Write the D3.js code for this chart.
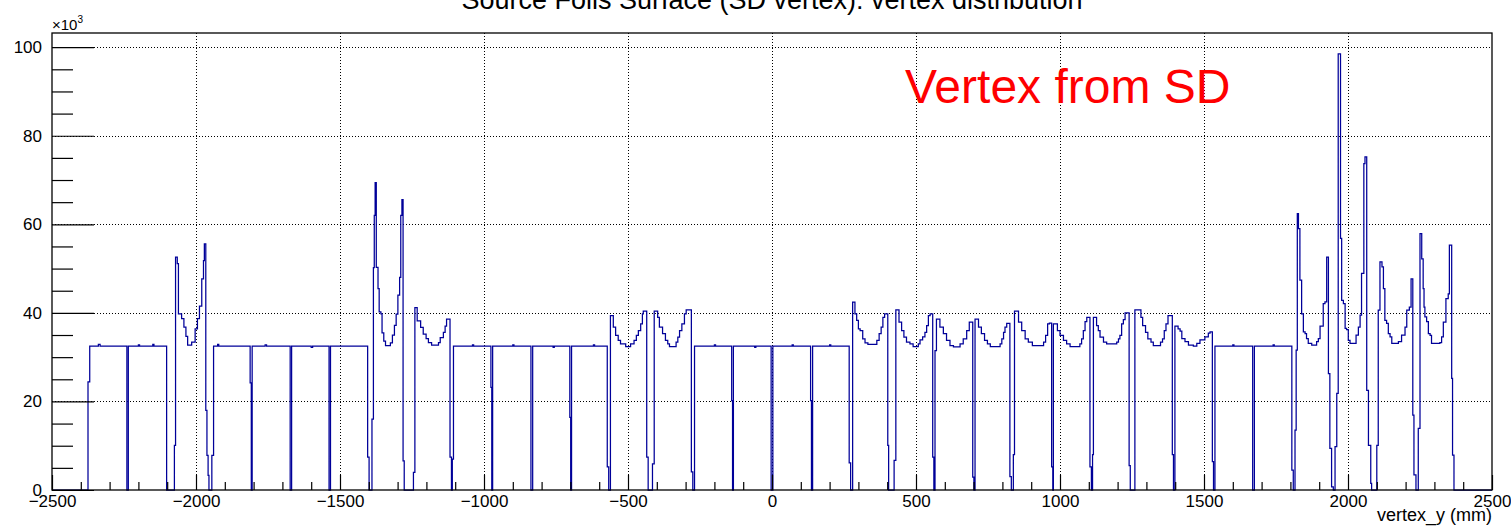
<!DOCTYPE html>
<html>
<head>
<meta charset="utf-8">
<script src="https://cdn.jsdelivr.net/npm/d3@7"></script>
<style>
  html, body { margin: 0; padding: 0; background: #fff; }
  svg { display: block; font-family: "Liberation Sans", Arial, Helvetica, sans-serif; }
</style>
</head>
<body>
<svg id="chart" width="1511" height="529"></svg>
<script>
// ---- axis definitions -------------------------------------------------
const xMajorTicks = [-2500, -2000, -1500, -1000, -500, 0, 500, 1000, 1500, 2000, 2500];
const yMajorTicks = [0, 20, 40, 60, 80, 100];
const xDomain = [-2500, 2500];
const yDomain = [0, 103.2];

const titleText = "Source Foils Surface (SD vertex): vertex distribution";
const xAxisTitle = "vertex_y (mm)";
const annotationText = "Vertex from SD";

// ---- histogram contents: [bin lower edge (mm), entries (x10^3)] ------
// each value holds until the next edge
const westFoils = [
  [-2500, 0], [-2375, 24.4], [-2369, 32.5], [-2339, 32.9], [-2333, 32.5],
  [-2240, 0], [-2235, 32.5], [-2200, 32.8], [-2196, 32.5], [-2150, 32.9], [-2146, 32.5],
  [-2102, 0], [-2075, 10.1], [-2071, 52.6], [-2065, 51.1], [-2061, 39.8], [-2050, 38.7],
  [-2042, 36.8], [-2035, 34.7], [-2029, 32.7], [-2015, 33.4], [-2003, 36.4], [-1995, 38.7],
  [-1988, 41.5], [-1980, 47.7], [-1974, 51.8], [-1971, 55.6], [-1966, 18.0], [-1962, 7.8],
  [-1958, 3.3], [-1955, 0], [-1945, 7.8], [-1939, 32.5], [-1925, 32.9], [-1921, 32.5],
  [-1812, 24.2], [-1808, 0], [-1805, 32.5], [-1760, 32.8], [-1755, 32.5],
  [-1673, 0], [-1668, 32.5], [-1600, 32.2], [-1595, 32.5], [-1538, 0], [-1533, 32.5],
  [-1404, 7.4], [-1399, 0]
];

const westCalibration = [
  [-1389, 16.0], [-1384, 50.2], [-1381, 62.0], [-1378, 69.4], [-1374, 50.3], [-1368, 45.5],
  [-1364, 40.2], [-1358, 39.8], [-1354, 35.5], [-1348, 33.6], [-1342, 32.6], [-1325, 33.2],
  [-1318, 35.0], [-1311, 37.2], [-1305, 39.7], [-1299, 44.0], [-1293, 48.0], [-1289, 62.0],
  [-1285, 65.6], [-1281, 6.6], [-1277, 0],
  [-1245, 4.0], [-1240, 41.2], [-1232, 38.2], [-1220, 36.7], [-1211, 35.2], [-1201, 34.2],
  [-1193, 33.3], [-1182, 32.7], [-1158, 33.3], [-1152, 34.4], [-1141, 35.6], [-1135, 37.0],
  [-1130, 38.6], [-1118, 7.4], [-1113, 0], [-1110, 7.0], [-1106, 32.5]
];

const centralFoils = [
  [-1040, 32.8], [-1036, 32.5], [-976, 23.2], [-973, 0], [-970, 32.5], [-900, 32.8], [-896, 32.5],
  [-837, 0], [-831, 32.5], [-760, 32.2], [-756, 32.5], [-702, 16.4], [-699, 0], [-696, 32.5],
  [-620, 32.8], [-616, 32.5], [-572, 5.2], [-567, 0],
  [-561, 39.4], [-551, 36.8], [-543, 34.9], [-534, 33.8], [-526, 33.0], [-508, 32.4],
  [-491, 33.0], [-479, 33.8], [-471, 34.9], [-464, 36.0], [-456, 37.5], [-450, 39.8],
  [-447, 40.4], [-435, 7.4], [-430, 0],
  [-415, 5.9], [-409, 40.4], [-397, 39.0], [-391, 36.8], [-380, 35.3], [-370, 33.8],
  [-362, 33.0], [-356, 32.4], [-333, 33.4], [-327, 34.5], [-321, 36.0], [-313, 37.5],
  [-304, 39.8], [-298, 40.7], [-280, 4.1], [-275, 0],
  [-269, 32.5], [-200, 32.8], [-196, 32.5], [-140, 20.2], [-137, 0], [-134, 32.5],
  [-60, 32.2], [-56, 32.5], [-3, 0], [3, 32.5], [70, 32.8], [74, 32.5],
  [134, 20.2], [137, 0], [141, 32.5], [200, 32.8], [204, 32.5], [268, 6.1], [273, 0]
];

const eastCalibration = [
  [280, 42.4], [288, 39.8], [294, 38.3], [300, 36.4], [306, 36.0], [315, 34.1], [323, 33.2],
  [333, 32.9], [364, 33.8], [372, 35.3], [379, 36.8], [385, 39.0], [391, 39.8], [402, 10.1], [405, 0],
  [424, 6.7], [430, 40.7], [441, 37.9], [450, 36.0], [458, 34.5], [467, 33.4], [479, 33.0],
  [490, 32.4], [508, 33.0], [514, 33.9], [523, 34.6], [531, 35.6], [537, 37.1], [543, 39.4],
  [549, 39.8], [558, 7.4], [562, 0],
  [566, 31.5], [571, 38.6], [583, 36.8], [595, 35.3], [606, 33.8], [618, 32.6], [630, 32.3],
  [653, 33.0], [664, 34.1], [676, 36.0], [685, 37.9], [697, 2.9], [701, 0],
  [705, 38.6], [717, 36.8], [727, 35.3], [738, 33.8], [748, 33.0], [758, 32.4], [792, 33.0],
  [798, 34.1], [804, 35.6], [809, 36.8], [815, 37.6], [826, 3.0], [831, 0],
  [838, 8.0], [842, 40.4], [856, 37.9], [867, 36.0], [879, 34.1], [890, 33.4], [904, 32.6],
  [943, 33.4], [950, 34.9], [957, 37.5], [963, 37.7], [971, 5.2], [975, 0],
  [977, 37.5], [991, 36.0], [1000, 34.9], [1012, 33.8], [1023, 33.0], [1035, 32.4],
  [1069, 33.0], [1075, 34.1], [1081, 36.0], [1087, 38.0], [1093, 39.0], [1104, 5.2], [1109, 0],
  [1113, 8.0], [1116, 39.0], [1127, 37.1], [1133, 36.0], [1139, 34.5], [1151, 33.4],
  [1162, 33.0], [1197, 33.4], [1203, 34.1], [1208, 34.9], [1214, 37.5], [1220, 38.5],
  [1226, 40.0], [1240, 5.5], [1244, 0],
  [1260, 40.7], [1281, 39.0], [1287, 37.1], [1297, 35.6], [1305, 34.1], [1316, 33.4],
  [1324, 32.6], [1349, 33.4], [1356, 34.1], [1362, 36.0], [1368, 37.5], [1375, 39.4],
  [1390, 8.0], [1394, 0],
  [1399, 37.0], [1410, 36.4], [1417, 35.9], [1423, 34.2], [1434, 33.5], [1446, 32.7],
  [1463, 32.5], [1475, 33.1], [1486, 33.9], [1503, 34.6], [1515, 35.4], [1521, 35.7],
  [1529, 6.4], [1533, 0]
];

const eastFoils = [
  [1538, 32.5], [1600, 32.8], [1604, 32.5], [1669, 0], [1675, 32.5], [1740, 32.8],
  [1744, 32.5], [1805, 4.5], [1810, 0],
  [1816, 13.5], [1820, 31.6], [1824, 62.4], [1828, 59.0], [1833, 47.4], [1839, 39.8],
  [1845, 35.7], [1851, 35.3], [1856, 34.2], [1862, 33.1], [1874, 32.7], [1891, 33.5],
  [1897, 34.2], [1903, 37.0], [1914, 42.1], [1920, 42.5], [1926, 52.6], [1932, 26.3],
  [1937, 9.4], [1943, 0.7], [1949, 0],
  [1955, 9.8], [1961, 21.8], [1966, 98.5], [1974, 56.8], [1978, 42.8], [1984, 42.1],
  [1990, 36.5], [1995, 36.2], [2001, 33.8], [2007, 33.1], [2028, 35.0], [2036, 36.8],
  [2042, 39.5], [2047, 48.9], [2055, 73.7], [2059, 75.2], [2065, 22.5], [2071, 10.1],
  [2079, 1.5], [2082, 0],
  [2100, 10.1], [2105, 40.6], [2111, 51.5], [2118, 50.4], [2123, 45.5], [2128, 38.3],
  [2134, 37.6], [2140, 35.3], [2146, 34.6], [2152, 33.1], [2175, 33.5], [2186, 35.0],
  [2198, 36.8], [2204, 40.6], [2213, 41.3], [2219, 47.7], [2225, 16.9], [2229, 3.4], [2236, 0],
  [2244, 13.9], [2250, 57.9], [2256, 52.2], [2261, 45.5], [2264, 41.3], [2267, 39.1],
  [2273, 38.0], [2279, 35.3], [2285, 34.9], [2290, 33.1], [2319, 33.3], [2325, 34.6],
  [2331, 37.9], [2340, 43.2], [2348, 44.3], [2352, 55.3], [2360, 25.2], [2363, 7.9],
  [2368, 0], [2500, 0]
];

const histogramSteps = [...westFoils, ...westCalibration, ...centralFoils, ...eastCalibration, ...eastFoils];

// ---- layout -----------------------------------------------------------
const frame = { left: 52, right: 1492, top: 33, bottom: 490 };
const svg = d3.select("#chart");

const x = d3.scaleLinear().domain(xDomain).range([frame.left, frame.right]);
const y = d3.scaleLinear().domain(yDomain).range([frame.bottom, frame.top]);

const xMinorTicks = d3.range(xDomain[0], xDomain[1] + 1, 100).filter(v => !xMajorTicks.includes(v));
const yMinorTicks = d3.range(0, yDomain[1], 5).filter(v => !yMajorTicks.includes(v));

// plain integers, true minus sign, no thousands separator
const tickLabel = d => (d < 0 ? "\u2212" + Math.abs(d) : String(d));

// ---- dotted grid -------------------------------------------------------
const grid = svg.append("g")
  .attr("stroke", "#000")
  .attr("stroke-width", 1)
  .attr("stroke-dasharray", "1 2")
  .attr("shape-rendering", "crispEdges");

grid.selectAll("line.vg")
  .data(xMajorTicks.filter(v => v > xDomain[0] && v < xDomain[1]))
  .join("line")
  .attr("class", "vg")
  .attr("x1", d => Math.round(x(d)) + 0.5).attr("x2", d => Math.round(x(d)) + 0.5)
  .attr("y1", frame.top).attr("y2", frame.bottom);

grid.selectAll("line.hg")
  .data(yMajorTicks.filter(v => v > 0))
  .join("line")
  .attr("class", "hg")
  .attr("x1", frame.left).attr("x2", frame.right)
  .attr("y1", d => Math.round(y(d)) + 0.5).attr("y2", d => Math.round(y(d)) + 0.5);

// ---- histogram line ----------------------------------------------------
const stepLine = d3.line()
  .x(d => x(d[0]))
  .y(d => y(d[1]))
  .curve(d3.curveStepAfter);

svg.append("path")
  .datum(histogramSteps)
  .attr("d", stepLine)
  .attr("fill", "none")
  .attr("stroke", "#000099")
  .attr("stroke-width", 1.25)
  .attr("stroke-linejoin", "miter");

// ---- axes --------------------------------------------------------------
const axisFont = 17;

const xAxisMajor = svg.append("g")
  .attr("transform", `translate(0,${frame.bottom})`)
  .call(d3.axisBottom(x).tickValues(xMajorTicks).tickSize(-15).tickPadding(5).tickFormat(tickLabel));
const xAxisMinor = svg.append("g")
  .attr("transform", `translate(0,${frame.bottom})`)
  .call(d3.axisBottom(x).tickValues(xMinorTicks).tickSize(-8).tickFormat(""));

const yAxisMajor = svg.append("g")
  .attr("transform", `translate(${frame.left},0)`)
  .call(d3.axisLeft(y).tickValues(yMajorTicks).tickSize(-42).tickPadding(10).tickFormat(tickLabel));
const yAxisMinor = svg.append("g")
  .attr("transform", `translate(${frame.left},0)`)
  .call(d3.axisLeft(y).tickValues(yMinorTicks).tickSize(-21).tickFormat(""));

[xAxisMajor, xAxisMinor, yAxisMajor, yAxisMinor].forEach(g => {
  g.select(".domain").remove();
  g.selectAll(".tick line").attr("stroke", "#000").attr("stroke-width", 1.2);
  g.selectAll(".tick text")
    .attr("fill", "#000")
    .style("font-family", '"Liberation Sans", Arial, Helvetica, sans-serif')
    .style("font-size", axisFont + "px");
});

// frame box
svg.append("rect")
  .attr("x", frame.left).attr("y", frame.top)
  .attr("width", frame.right - frame.left)
  .attr("height", frame.bottom - frame.top)
  .attr("fill", "none")
  .attr("stroke", "#000")
  .attr("stroke-width", 1.3);

// ---- texts -------------------------------------------------------------
svg.append("text")
  .attr("x", 772).attr("y", 9)
  .attr("text-anchor", "middle")
  .style("font-size", "27px")
  .attr("fill", "#000")
  .text(titleText);

const expo = svg.append("text")
  .attr("x", frame.left).attr("y", 30)
  .style("font-size", "15px")
  .attr("fill", "#000");
expo.append("tspan").text("\u00d710");
expo.append("tspan").attr("dy", -7).style("font-size", "10px").text("3");

svg.append("text")
  .attr("x", frame.right).attr("y", 521)
  .attr("text-anchor", "end")
  .style("font-size", "18px")
  .attr("fill", "#000")
  .text(xAxisTitle);

svg.append("text")
  .attr("x", 905).attr("y", 103)
  .style("font-size", "48px")
  .attr("fill", "#ff0000")
  .text(annotationText);
</script>
</body>
</html>
